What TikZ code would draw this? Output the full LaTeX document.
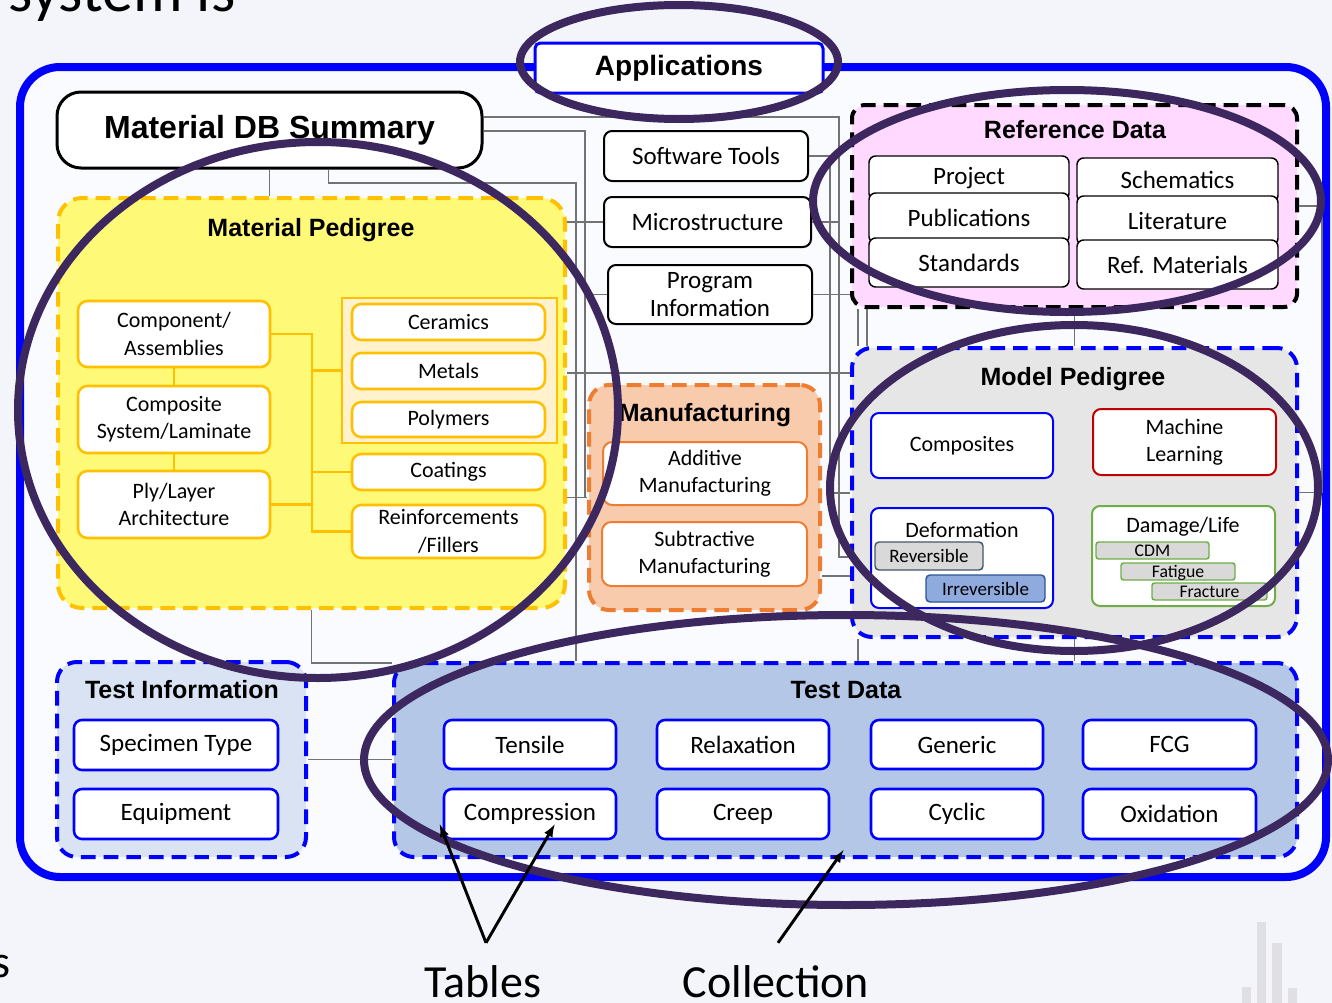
\documentclass[tikz,border=0pt]{standalone}
\usepackage{fontspec}
\setmainfont{Carlito}
\newfontfamily\arialfont{Liberation Sans}
\usetikzlibrary{calc,arrows}

\definecolor{bgpage}{RGB}{244,245,250}
\definecolor{bginner}{RGB}{250,251,254}
\definecolor{pureblue}{RGB}{0,0,255}
\definecolor{gold}{RGB}{255,192,0}
\definecolor{yellowfill}{RGB}{255,249,120}
\definecolor{creamfill}{RGB}{255,242,204}
\definecolor{orangeline}{RGB}{237,125,49}
\definecolor{peachfill}{RGB}{248,203,173}
\definecolor{pinkfill}{RGB}{255,217,255}
\definecolor{greyfill}{RGB}{231,230,230}
\definecolor{paleblue}{RGB}{218,227,243}
\definecolor{midblue}{RGB}{180,199,231}
\definecolor{ringcol}{RGB}{60,40,95}
\definecolor{darkred}{RGB}{192,0,0}
\definecolor{leafgreen}{RGB}{112,173,71}
\definecolor{irrfill}{RGB}{143,170,220}
\definecolor{irrline}{RGB}{47,85,151}
\definecolor{revline}{RGB}{68,84,106}
\definecolor{chipfill}{RGB}{217,217,217}
\definecolor{linkgrey}{RGB}{115,115,115}
\definecolor{barcol}{RGB}{224,224,228}

\newcommand{\hugefnt}{\fontsize{46.5}{50}\selectfont}
\newcommand{\bigfnt}{\fontsize{34.5}{40}\selectfont}
\newcommand{\sumfnt}{\arialfont\bfseries\fontsize{24}{28}\selectfont}
\newcommand{\appfnt}{\arialfont\bfseries\fontsize{21}{25}\selectfont}
\newcommand{\ttlfnt}{\arialfont\bfseries\fontsize{18.75}{22}\selectfont}
\newcommand{\boxfnt}{\fontsize{18.75}{21}\selectfont}
\newcommand{\subfnt}{\fontsize{16.5}{20.5}\selectfont}
\newcommand{\revfnt}{\fontsize{14.25}{16}\selectfont}
\newcommand{\chipfnt}{\fontsize{13.3}{15}\selectfont}

\tikzset{
  boxat/.style n args={4}{at={({(#1+#3)/2},{(#2+#4)/2})}, minimum width={(#3-#1)*0.75pt}, minimum height={(#4-#2)*0.75pt}},
  link/.style={draw=linkgrey, line width=0.9pt},
  ytree/.style={draw=gold, line width=2.2pt},
  ring/.style={draw=ringcol, line width=6pt},
  pointer/.style={->, >=latex, line width=2.2pt},
  grp/.style={inner sep=0pt, line width=3pt, dash pattern=on 11pt off 6pt, rounded corners=15pt},
  grptitle/.style={font=\ttlfnt, inner sep=0pt},
  sumbox/.style={draw=black, fill=white, line width=2.25pt, rounded corners=18pt, inner sep=0pt, font=\sumfnt},
  appbox/.style={draw=pureblue, fill=white, line width=2.25pt, rounded corners=4pt, inner sep=0pt, font=\appfnt},
  cbox/.style={draw=black, fill=white, line width=1.5pt, rounded corners=6pt, inner sep=0pt, align=center, font=\boxfnt},
  rbox/.style={cbox, line width=1.1pt, rounded corners=5pt},
  ybox/.style={draw=gold, fill=white, line width=1.9pt, rounded corners=7pt, inner sep=0pt, align=center, font=\subfnt},
  obox/.style={ybox, draw=orangeline, line width=1.5pt},
  mbox/.style={draw=pureblue, fill=white, line width=1.5pt, rounded corners=6pt, inner sep=0pt, align=center, font=\subfnt},
  tbox/.style={mbox, line width=1.9pt, font=\boxfnt},
  revbox/.style={draw=revline, fill=chipfill, line width=1.1pt, rounded corners=3pt, inner sep=0pt, font=\revfnt},
  chip/.style={draw=leafgreen, fill=chipfill, line width=1.1pt, rounded corners=2pt, inner sep=0pt, font=\chipfnt, text height=8.6pt, text depth=0pt},
  note/.style={inner sep=0pt, font=\bigfnt},
}

\begin{document}
\begin{tikzpicture}[x=0.75pt,y=-0.75pt]
\useasboundingbox (0,0) rectangle (1332,1003);
\clip (0,0) rectangle (1332,1003);
\fill[bgpage] (0,0) rectangle (1332,1003);

%faint logo bars
\fill[barcol] (1242,987) rectangle (1251,1003);
\fill[barcol] (1257,922) rectangle (1266,1003);
\fill[barcol] (1272,943) rectangle (1282,1003);
\fill[barcol] (1288,988) rectangle (1297,1003);

%slide text
\node[anchor=base west, inner sep=0pt, font=\hugefnt] (heading) at (8,12) {system is};
\node[anchor=base east, note] (leftword) at (11,977) {s};

%outer frame
\draw[pureblue, line width=6pt, fill=bginner, rounded corners=30pt] (20,67) rectangle (1326,877);

%summary and applications
\node[sumbox, boxat={57}{92}{482}{168}] (mds) {Material DB Summary};
\node[appbox, boxat={535}{43}{823}{93}] (apps) {Applications};

%center column
\node[cbox, boxat={604}{131}{808}{181}] (soft) {Software Tools};
\node[cbox, boxat={604}{197}{811}{247}] (micro) {Microstructure};
\node[cbox, boxat={608}{265}{812}{324}] (prog) {Program\\Information};

%reference data
\node[grp, draw=black, fill=pinkfill, rounded corners=10pt, boxat={852}{105}{1297}{307}] (refdata) {};
\node[grptitle] (reftitle) at (1075,130) {Reference Data};
\node[rbox, boxat={869}{156}{1069}{200}] (proj) {Project};
\node[rbox, boxat={869}{193}{1069}{243}] (publ) {Publications};
\node[rbox, boxat={869}{238}{1069}{287}] (stand) {Standards};
\node[rbox, boxat={1077}{158}{1278}{202}] (schem) {Schematics};
\node[rbox, boxat={1077}{196}{1278}{245}] (liter) {Literature};
\node[rbox, boxat={1077}{240}{1278}{289}] (refmat) {Ref. Materials};

%material pedigree
\node[grp, draw=gold, fill=yellowfill, rounded corners=18pt, boxat={58}{198}{565}{608}] (matped) {};
\node[grptitle] (mattitle) at (311,230) {Material Pedigree};
\node[draw=gold, fill=creamfill, line width=1.5pt, inner sep=0pt, boxat={342}{298}{557}{443}] (metalgrp) {};
\coordinate (trunk) at (312,334);
\node[ybox, boxat={78}{301}{270}{367}] (comp) {Component/\\Assemblies};
\node[ybox, boxat={78}{386}{270}{453}] (compo) {Composite\\System/Laminate};
\node[ybox, boxat={78}{471}{270}{538}] (ply) {Ply/Layer\\Architecture};
\node[ybox, boxat={352}{304}{545}{340}] (cer) {Ceramics};
\node[ybox, boxat={352}{353}{545}{389}] (met) {Metals};
\node[ybox, boxat={352}{402}{545}{437}] (poly) {Polymers};
\node[ybox, boxat={352}{454}{545}{490}] (coat) {Coatings};
\node[ybox, boxat={352}{505}{545}{558}] (reinf) {Reinforcements\\/Fillers};
\draw[ytree] (comp.east) -- (trunk) -- (trunk |- reinf.west) -- (reinf.west);
\draw[ytree] (trunk |- metalgrp.west) -- (metalgrp.west);
\draw[ytree] (trunk |- coat.west) -- (coat.west);
\draw[ytree] (ply.east) -- (ply.east -| trunk);
\draw[ytree] (comp.south) -- (compo.north);
\draw[ytree] (compo.south) -- (ply.north);

%manufacturing
\node[grp, draw=orangeline, fill=peachfill, boxat={589}{385}{820}{610}] (manu) {};
\node[grptitle] (manutitle) at (705,415) {Manufacturing};
\node[obox, boxat={603}{442}{807}{505}] (addm) {Additive\\Manufacturing};
\node[obox, boxat={602}{522}{807}{586}] (subm) {Subtractive\\Manufacturing};

%model pedigree
\node[grp, draw=pureblue, fill=greyfill, boxat={852}{348}{1297}{637}] (model) {};
\node[grptitle] (modtitle) at (1073,379) {Model Pedigree};
\node[mbox, boxat={871}{413}{1053}{478}] (compm) {Composites};
\node[mbox, draw=darkred, boxat={1093}{409}{1276}{475}] (mlearn) {Machine\\Learning};
\node[mbox, boxat={871}{508}{1053}{608}] (deform) {};
\node[font=\subfnt, inner sep=0pt] (deflbl) at (962,530) {Deformation};
\node[revbox, boxat={875}{542}{983}{570}] (rev) {Reversible};
\node[revbox, draw=irrline, fill=irrfill, boxat={926}{575}{1045}{602}] (irrev) {Irreversible};
\node[mbox, draw=leafgreen, boxat={1092}{506}{1275}{606}] (damage) {};
\node[font=\subfnt, inner sep=0pt] (damlbl) at (1183,527) {Damage/Life};
\node[chip, boxat={1096}{542}{1209}{559}] (cdm) {CDM};
\node[chip, boxat={1121}{563}{1235}{580}] (fat) {Fatigue};
\node[chip, boxat={1152}{583}{1267}{600}] (frac) {Fracture};

%test information
\node[grp, draw=pureblue, fill=paleblue, boxat={57}{662}{306}{857}] (testinfo) {};
\node[grptitle] (infotitle) at (182,690) {Test Information};
\node[tbox, boxat={74}{720}{278}{770}] (spec) {Specimen Type};
\node[tbox, boxat={74}{789}{278}{839}] (equip) {Equipment};

%test data
\node[grp, draw=pureblue, fill=midblue, boxat={394}{663}{1297}{857}] (testdata) {};
\node[grptitle] (datatitle) at (846,690) {Test Data};
\node[tbox, boxat={444}{720}{616}{769}] (tens) {Tensile};
\node[tbox, boxat={657}{720}{829}{769}] (relax) {Relaxation};
\node[tbox, boxat={871}{720}{1043}{769}] (gener) {Generic};
\node[tbox, boxat={1083}{720}{1256}{769}] (fcg) {FCG};
\node[tbox, boxat={444}{789}{616}{839}] (compr) {Compression};
\node[tbox, boxat={657}{789}{829}{839}] (creep) {Creep};
\node[tbox, boxat={871}{789}{1043}{839}] (cycl) {Cyclic};
\node[tbox, boxat={1083}{789}{1256}{839}] (oxid) {Oxidation};

%links
\coordinate (busa) at (839,117);
\coordinate (busb) at (830,493);
\coordinate (busc) at (585,131);
\coordinate (busd) at (576,183);
\coordinate (buse) at (1322,207);
\coordinate (busf) at (839,557);
\coordinate (mlink) at ($(model.north west)+(0,27)$);
\coordinate (mlow) at ($(manu.south east)+(0,-36)$);
\coordinate (rtap) at ($(refdata.south west)+(8,0)$);
\coordinate (rtapb) at ($(refdata.south west)+(17,0)$);
\draw[link] (mds.south) -- (mds.south |- matped.north);
\draw[link] (mds.east |- busa) -- (busa) -- (busf) -- (model.west |- busf);
\draw[link] (micro.east) -- (micro.east -| busa);
\draw[link] (soft.east) -| (busb) -- (model.west |- busb);
\draw[link] (prog.east) -- (prog.east -| refdata.west);
\draw[link] (mds.east |- busc) -| (busc |- manu.west);
\draw[link] (busc |- prog.west) -- (prog.west);
\draw[link] ($(mds.south)+(59,0)$) |- (busd) -- (busd |- testdata.north);
\draw[link] (matped.east |- micro.west) -- (micro.west);
\draw[link] (matped.east |- mlink) -- (mlink);
\draw[link] (matped.east |- manu.west) -- (manu.west);
\draw[link] (mlow) -- (mlow -| model.west);
\draw[link] (refdata.east) -| (buse |- model.east) -- (model.east);
\draw[link] (refdata.south) -- (model.north);
\draw[link] (rtap) -- (rtap |- model.north);
\draw[link] (rtap |- model.south) -- (rtap |- testdata.north);
\draw[link] (rtapb) -- (rtapb |- model.north);
\draw[link] (model.south) -- (model.south |- testdata.north);
\draw[link] (matped.south) |- ($(testdata.north west)+(0,2)$);
\draw[link] (testinfo.east) -- (testinfo.east -| testdata.west);

%rings
\draw[ring] (679,62) ellipse [x radius=159, y radius=57];
\draw[ring] (1067,201) ellipse [x radius=254, y radius=111];
\draw[ring] (318,410) ellipse [x radius=300, y radius=268];
\draw[ring] (1074,488) ellipse [x radius=244, y radius=163];
\draw[ring] (846,760) ellipse [x radius=482, y radius=145];

%callouts
\node[anchor=base, note] (tables) at (483,997) {Tables};
\node[anchor=base, note] (collect) at (776,997) {Collection};
\coordinate (tapex) at ($(tables.north)+(3,-22)$);
\coordinate (capex) at ($(collect.north)+(2,-22)$);
\coordinate (tleft) at ($(compr.south west)+(-3,-16)$);
\coordinate (tright) at ($(compr.south west)+(112,-16)$);
\coordinate (ctip) at ($(testdata.south)+(-2,-9)$);
\draw[pointer] (tapex) -- (tleft);
\draw[pointer] (tapex) -- (tright);
\draw[pointer] (capex) -- (ctip);
\end{tikzpicture}
\end{document}
